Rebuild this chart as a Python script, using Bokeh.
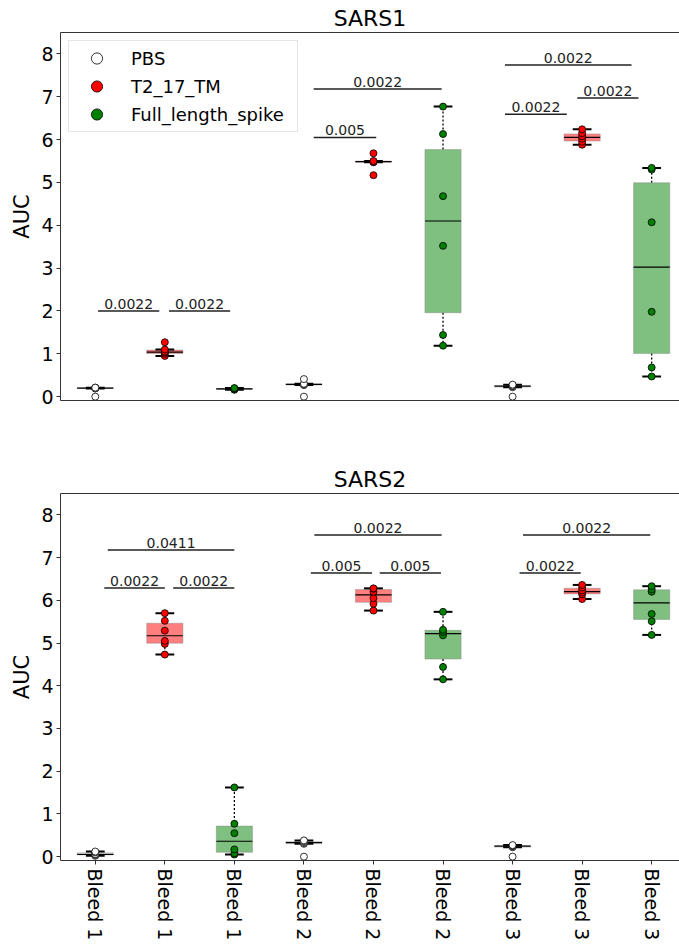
import numpy as np
from bokeh.plotting import figure
from bokeh.models import Range1d, FixedTicker, LinearAxis, Legend, LegendItem, ColumnDataSource
from bokeh.layouts import column
from bokeh.embed import file_html
from bokeh.resources import INLINE
from bokeh.core.properties import value

FONT = "DejaVu Sans"

bleed_labels = ["Bleed 1", "Bleed 2", "Bleed 3"]
groups = ["PBS", "T2_17_TM", "Full_length_spike"]
group_colors = ["white", "red", "green"]

# SARS1 AUC values (6 animals per group, per bleed)
sars1_pbs = [[0.0, 0.19, 0.20, 0.20, 0.21, 0.21],
             [0.0, 0.27, 0.28, 0.29, 0.30, 0.41],
             [0.0, 0.22, 0.24, 0.25, 0.26, 0.28]]
sars1_t2 = [[0.95, 1.00, 1.03, 1.05, 1.10, 1.27],
            [5.17, 5.47, 5.48, 5.49, 5.50, 5.68],
            [5.88, 5.95, 6.02, 6.08, 6.15, 6.24]]
sars1_full = [[0.16, 0.17, 0.18, 0.18, 0.19, 0.20],
              [1.19, 1.44, 3.52, 4.68, 6.13, 6.77],
              [0.47, 0.68, 1.98, 4.07, 5.30, 5.34]]

# SARS2 AUC values
sars2_pbs = [[0.02, 0.04, 0.05, 0.06, 0.10, 0.12],
             [0.0, 0.30, 0.32, 0.34, 0.36, 0.38],
             [0.0, 0.22, 0.24, 0.25, 0.26, 0.27]]
sars2_t2 = [[4.73, 4.98, 5.05, 5.29, 5.52, 5.70],
            [5.76, 5.92, 6.05, 6.20, 6.27, 6.28],
            [6.03, 6.14, 6.18, 6.23, 6.30, 6.36]]
sars2_full = [[0.05, 0.08, 0.17, 0.55, 0.77, 1.62],
              [4.15, 4.44, 5.18, 5.26, 5.31, 5.73],
              [5.19, 5.51, 5.68, 6.20, 6.26, 6.33]]

# significance brackets (start, end in category units, height, p-value)
sars1_br_x0 = [0.04, 1.06, 3.14, 3.14, 5.89, 6.93, 5.89]
sars1_br_x1 = [0.92, 1.94, 4.04, 4.98, 6.78, 7.81, 7.71]
sars1_br_y = [2.0, 2.0, 6.05, 7.18, 6.59, 6.97, 7.74]
sars1_br_p = ["0.0022", "0.0022", "0.005", "0.0022", "0.0022", "0.0022", "0.0022"]

sars2_br_x0 = [0.13, 1.12, 0.18, 3.10, 4.09, 3.15, 6.10, 6.15]
sars2_br_x1 = [1.00, 2.00, 2.00, 3.98, 4.97, 4.98, 6.98, 7.98]
sars2_br_y = [6.29, 6.29, 7.18, 6.64, 6.64, 7.53, 6.64, 7.53]
sars2_br_p = ["0.0022", "0.0022", "0.0411", "0.005", "0.005", "0.0022", "0.0022", "0.0022"]

y_ticks = [0, 1, 2, 3, 4, 5, 6, 7, 8]

BOX_W = 0.52
CAP_W = 0.27
AXIS_COLOR = "#333333"


def box_stats(vals):
    a = np.sort(np.asarray(vals, dtype=float))
    q1, med, q3 = np.percentile(a, [25, 50, 75])
    iqr = q3 - q1
    lo = a[a >= q1 - 1.5 * iqr].min()
    hi = a[a <= q3 + 1.5 * iqr].max()
    return q1, med, q3, lo, hi


def make_panel(title, pbs, t2, full, bx0, bx1, by, bp, is_top):
    if is_top:
        mb_top, mb_bot = 32, 30
    else:
        mb_top, mb_bot = 63, 82
    h = mb_top + 368 + mb_bot
    p = figure(width=679, height=h, x_range=Range1d(-0.5, 8.4), y_range=Range1d(-0.09, 8.5),
               output_backend="svg", toolbar_location=None, title=title,
               min_border_left=60, min_border_right=0, min_border_top=mb_top,
               min_border_bottom=mb_bot, x_axis_location=None, y_axis_location=None)
    p.outline_line_color = None
    p.background_fill_color = "white"
    p.border_fill_color = "white"
    p.xgrid.visible = False
    p.ygrid.visible = False

    p.title.text_font = FONT
    p.title.text_font_size = "22px"
    p.title.text_font_style = "normal"
    p.title.align = "center"
    p.title.offset = 4
    p.title.standoff = 4
    p.title.text_color = "black"

    # axes
    yax = LinearAxis(ticker=FixedTicker(ticks=y_ticks), axis_label="AUC")
    yax.major_label_text_font = FONT
    yax.major_label_text_font_size = "19px"
    yax.major_label_text_color = "black"
    yax.axis_label_text_font = FONT
    yax.axis_label_text_font_size = "21px"
    yax.axis_label_text_font_style = "normal"
    yax.axis_label_text_color = "black"
    yax.major_tick_out = 4
    yax.major_tick_in = 0
    yax.minor_tick_out = 0
    yax.minor_tick_in = 0
    yax.major_label_standoff = 3
    yax.axis_label_standoff = 4
    yax.axis_line_color = AXIS_COLOR
    yax.major_tick_line_color = AXIS_COLOR
    p.add_layout(yax, "left")

    if is_top:
        xax = LinearAxis(ticker=FixedTicker(ticks=[]))
        xax.major_tick_out = 0
        xax.major_label_standoff = 0
    else:
        xax = LinearAxis(ticker=FixedTicker(ticks=list(range(9))))
        xax.major_label_overrides = {i: bleed_labels[i // 3] for i in range(9)}
        xax.major_label_text_font = FONT
        xax.major_label_orientation = "vertical"
        xax.major_label_text_color = "black"
        xax.major_label_text_font_size = "19px"
        xax.major_tick_out = 4
        xax.major_label_standoff = 4
    xax.minor_tick_out = 0
    xax.minor_tick_in = 0
    xax.major_tick_in = 0
    xax.axis_line_color = AXIS_COLOR
    xax.major_tick_line_color = AXIS_COLOR
    p.add_layout(xax, "below")

    topax = LinearAxis(ticker=FixedTicker(ticks=[]))
    topax.major_tick_out = 0
    topax.major_tick_in = 0
    topax.minor_tick_out = 0
    topax.minor_tick_in = 0
    topax.major_label_standoff = 0
    topax.axis_line_color = AXIS_COLOR
    p.add_layout(topax, "above")

    # box statistics
    xs, q1s, meds, q3s, los, his, fills = [], [], [], [], [], [], []
    for gi, gdata in enumerate([pbs, t2, full]):
        for bi in range(3):
            q1, med, q3, lo, hi = box_stats(gdata[bi])
            xs.append(bi * 3 + gi)
            q1s.append(q1); meds.append(med); q3s.append(q3)
            los.append(lo); his.append(hi)
            fills.append(group_colors[gi])
    xs = np.array(xs, dtype=float)
    src = ColumnDataSource(dict(x=xs, q1=q1s, med=meds, q3=q3s, lo=los, hi=his, fill=fills,
                                bl=xs - BOX_W / 2, br=xs + BOX_W / 2,
                                cl=xs - CAP_W / 2, cr=xs + CAP_W / 2))

    p.segment(x0="x", y0="q3", x1="x", y1="hi", source=src, line_color="black",
              line_width=1.3, line_dash="2 2")
    p.segment(x0="x", y0="q1", x1="x", y1="lo", source=src, line_color="black",
              line_width=1.3, line_dash="2 2")
    p.vbar(x="x", width=BOX_W, bottom="q1", top="q3", source=src, fill_color="fill",
           fill_alpha=0.5, line_color="#888888", line_alpha=0.45, line_width=1)
    p.segment(x0="bl", y0="med", x1="br", y1="med", source=src, line_color="black", line_width=1.2)
    p.segment(x0="cl", y0="lo", x1="cr", y1="lo", source=src, line_color="black", line_width=2)
    p.segment(x0="cl", y0="hi", x1="cr", y1="hi", source=src, line_color="black", line_width=2)

    # points
    renderers = []
    for gi, gdata in enumerate([pbs, t2, full]):
        px, py = [], []
        for bi in range(3):
            for v in gdata[bi]:
                px.append(bi * 3 + gi)
                py.append(v)
        r = p.scatter(px, py, size=7, fill_color=group_colors[gi], line_color="black",
                      line_width=0.8)
        renderers.append(r)

    # significance brackets
    bsrc = ColumnDataSource(dict(x0=bx0, x1=bx1, y=by, p=bp,
                                 xm=[(a + b) / 2 for a, b in zip(bx0, bx1)]))
    p.segment(x0="x0", y0="y", x1="x1", y1="y", source=bsrc, line_color="#222222", line_width=1.5)
    p.text(x="xm", y="y", text="p", source=bsrc, text_align="center", text_baseline="bottom",
           y_offset=-2, text_font=value(FONT), text_font_size="14px", text_color="#222222")

    if is_top:
        items = [LegendItem(label=groups[i], renderers=[renderers[i]]) for i in range(3)]
        leg = Legend(items=items, location="top_left")
        leg.margin = 8
        leg.padding = 3
        leg.glyph_width = 49
        leg.glyph_height = 28
        leg.label_height = 20
        leg.label_width = 163
        leg.spacing = 0
        leg.label_standoff = 10
        leg.label_text_font = FONT
        leg.label_text_font_size = "18px"
        leg.label_text_color = "black"
        leg.border_line_color = "#cccccc"
        leg.border_line_width = 1
        leg.background_fill_alpha = 0.8
        p.add_layout(leg, "center")
    return p


p1 = make_panel("SARS1", sars1_pbs, sars1_t2, sars1_full,
                sars1_br_x0, sars1_br_x1, sars1_br_y, sars1_br_p, True)
p2 = make_panel("SARS2", sars2_pbs, sars2_t2, sars2_full,
                sars2_br_x0, sars2_br_x1, sars2_br_y, sars2_br_p, False)

layout = column(p1, p2, spacing=0)
open("out.html", "w").write(file_html(layout, INLINE))
